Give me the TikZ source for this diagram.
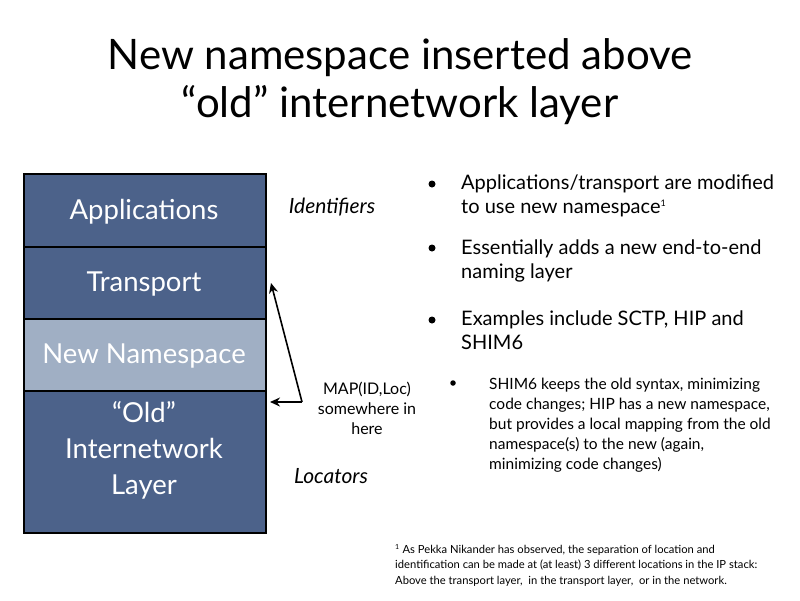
\documentclass[tikz,border=0pt]{standalone}
\usepackage{fontspec}
\setmainfont{Lato}
\usetikzlibrary{arrows.meta}
\definecolor{layerblue}{RGB}{76,98,138}
\definecolor{layerlight}{RGB}{160,175,196}
\begin{document}
\begin{tikzpicture}[x=1pt,y=-1pt,
  layer/.style={draw=black,line width=1.6pt,fill=layerblue,minimum width=242pt,
    inner sep=0pt,anchor=north west},
  layertext/.style={text=white,font=\fontsize{27.5}{36}\selectfont,align=center,inner sep=0pt},
  side/.style={font=\itshape\fontsize{21}{24}\selectfont},
  maplabel/.style={font=\fontsize{16}{20}\selectfont,align=center},
  bulletdot/.style={circle,fill=black,inner sep=0pt,minimum size=7pt},
  bullettext/.style={anchor=north west,align=left,inner sep=0pt,font=\fontsize{20}{24}\selectfont},
  subtext/.style={anchor=north west,align=left,inner sep=0pt,font=\fontsize{15.5}{20}\selectfont},
  maparrow/.style={-{Stealth[length=10pt,width=9pt]},line width=1.6pt}]
\useasboundingbox (0,0) rectangle (800,600);
\fill[white] (0,0) rectangle (800,600);
% title
\node[font=\fontsize{42}{48}\selectfont,align=center] (title) at (400,82)
  {New namespace inserted above\\``old'' internetwork layer};
% protocol stack
\node[layer,minimum height=73pt] (app) at (23,173) {};
\node[layer,minimum height=72pt] (trans) at (23,246) {};
\node[layer,minimum height=72pt,fill=layerlight] (ns) at (23,318) {};
\node[layer,minimum height=142pt] (old) at (23,390) {};
\node[layertext] (appT) at (144,212) {Applications};
\node[layertext] (transT) at (144,284) {Transport};
\node[layertext] (nsT) at (144,356) {New Namespace};
\node[layertext] (oldT) at (144,450) {``Old''\\Internetwork\\Layer};
% side labels
\node[side] (ids) at (332,207) {Identifiers};
\node[side] (locs) at (331,476) {Locators};
% mapping arrows
\coordinate (bend) at (302,402);
\coordinate (uptip) at (271,283);
\coordinate (lefttip) at (270,402);
\draw[maparrow] (bend) -- (uptip);
\draw[maparrow] (bend) -- (lefttip);
\node[maplabel] (map) at (367,408) {MAP(ID,Loc)\\somewhere in\\here};
% bullets
\node[bulletdot] (b1) at (432,184) {};
\node[bullettext] (t1) at (461,175) {Applications/transport are modified\\to use new namespace\textsuperscript{\fontsize{9}{9}\selectfont 1}};
\node[bulletdot] (b2) at (432,248) {};
\node[bullettext] (t2) at (461,240) {Essentially adds a new end-to-end\\naming layer};
\node[bulletdot] (b3) at (432,320) {};
\node[bullettext] (t3) at (461,311) {Examples include SCTP, HIP and\\SHIM6};
\node[bulletdot,minimum size=5.5pt] (b4) at (453,383) {};
\node[subtext] (t4) at (489,378) {SHIM6 keeps the old syntax, minimizing\\code changes; HIP has a new namespace,\\but provides a local mapping from the old\\namespace(s) to the new (again,\\minimizing code changes)};
% footnote
\node[anchor=north west,align=left,inner sep=0pt,font=\fontsize{11.2}{15.5}\selectfont] (fn) at (395,544)
  {\textsuperscript{\fontsize{7}{7}\selectfont 1} As Pekka Nikander has observed, the separation of location and\\identification can be made at (at least) 3 different locations in the IP stack:\\Above the transport layer,\ \ in the transport layer,\ \ or in the network.};
\end{tikzpicture}
\end{document}
